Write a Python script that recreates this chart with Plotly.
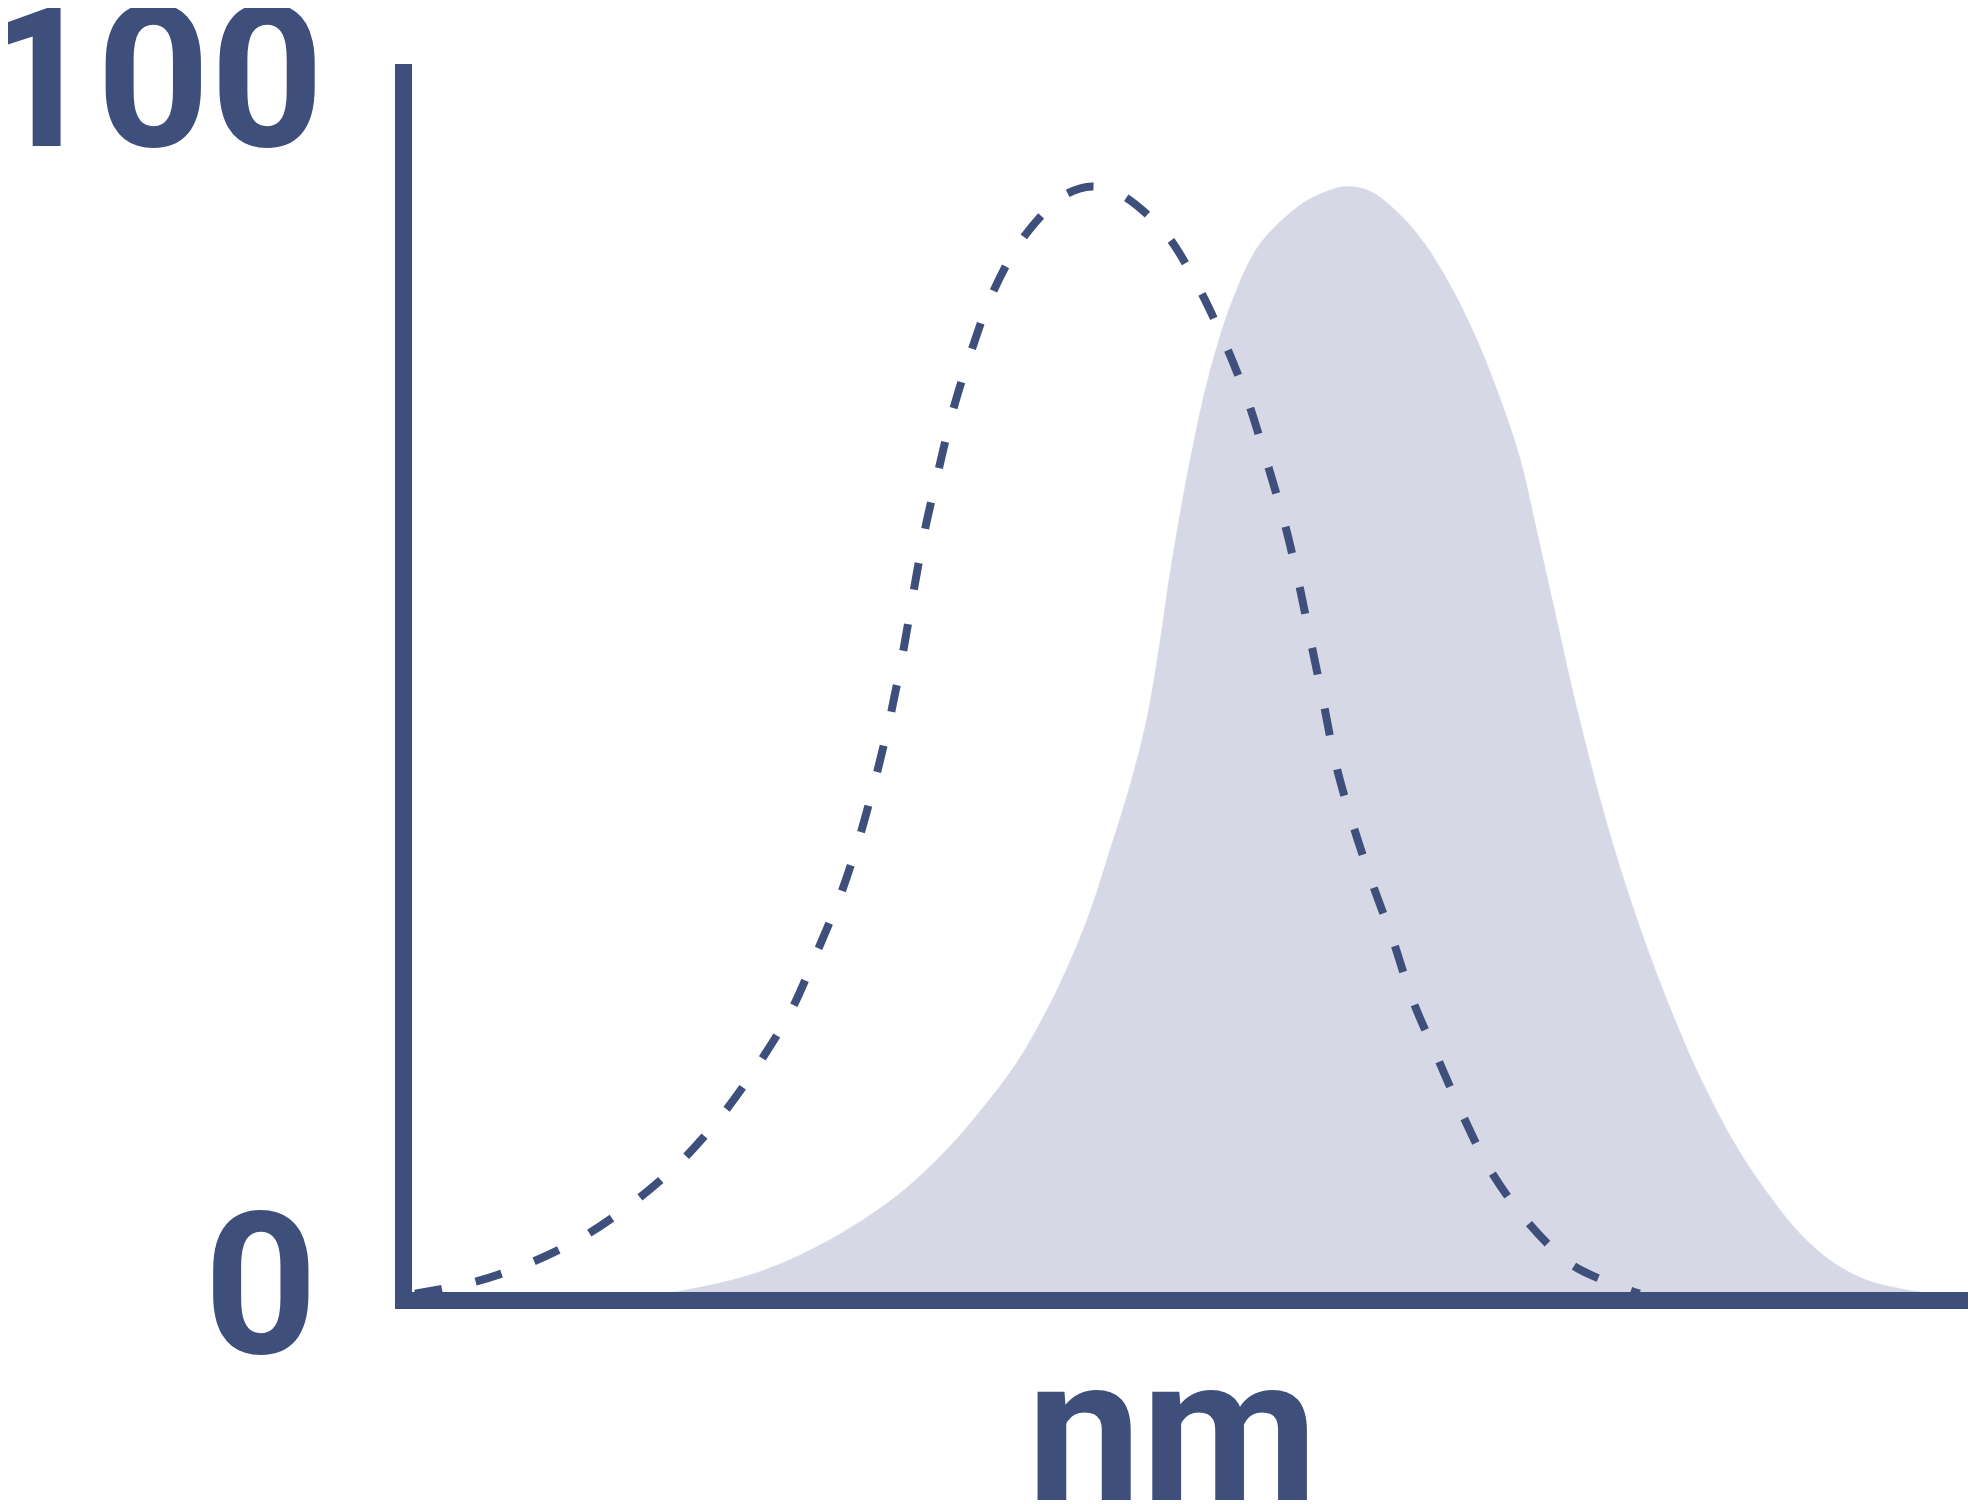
import plotly.graph_objects as go

# ---- data ----
dashed_x = [0.7, 4.4, 8.1, 11.6, 14.9, 17.8, 20.5, 22.9, 24.8, 26.4, 27.9, 29.1, 30.2,
            31.1, 31.9, 32.6, 33.3, 34.2, 35.1, 36.3, 37.6, 39.5, 42.1, 44.0, 45.9,
            48.7, 50.9, 52.6, 54.0, 55.2, 56.3, 57.2, 58.0, 58.8, 59.6, 60.7, 61.9,
            63.2, 64.5, 66.1, 67.7, 69.4, 71.7, 74.7, 78.1, 79.0]
dashed_y = [0.6, 1.5, 3.1, 5.3, 8.2, 11.4, 15.3, 19.6, 23.6, 28.2, 32.8, 37.4, 42.5,
            47.3, 52.4, 57.5, 62.3, 67.3, 72.0, 76.9, 81.4, 85.8, 89.3, 90.1, 89.4,
            86.3, 81.7, 77.1, 72.6, 67.7, 62.9, 58.1, 53.2, 48.3, 43.3, 38.4, 33.8,
            29.3, 24.3, 19.6, 15.0, 10.7, 6.6, 2.9, 1.0, 0.6]

filled_x = [10.0, 12.5, 15.1, 17.8, 22.1, 25.3, 28.5, 31.7, 34.9, 37.0, 39.2, 41.3,
            42.6, 43.9, 45.1, 46.4, 47.5, 48.3, 49.1, 50.3, 51.5, 53.0, 54.7, 57.3,
            58.6, 60.2, 61.8, 63.7, 65.3, 66.9, 68.5, 70.1, 71.4, 72.4, 73.5, 75.2,
            77.3, 79.5, 81.6, 82.9, 85.0, 87.2, 89.3, 91.4, 93.5, 95.7, 98.2, 100.0]
filled_y = [0.0, 0.16, 0.42, 0.84, 2.1, 3.7, 5.9, 8.7, 12.5, 15.6, 19.3, 24.0,
            27.5, 31.6, 36.3, 41.6, 47.1, 53.0, 59.8, 68.2, 75.0, 81.0, 85.4, 88.6,
            89.5, 90.1, 89.7, 87.8, 85.4, 82.1, 78.0, 72.9, 67.9, 62.4, 56.2, 46.8,
            36.9, 28.5, 21.7, 18.0, 12.9, 8.7, 5.4, 3.1, 1.7, 1.0, 0.5, 0.1]

y_tick_labels = ["100", "0"]
x_axis_label = "nm"

NAVY = "#3F4F7C"
FILL = "#D6D9E5"

fig = go.Figure()
fig.add_trace(go.Scatter(
    x=filled_x, y=filled_y, mode="lines", fill="tozeroy",
    fillcolor=FILL, line=dict(color=FILL, width=0.5, shape="spline", smoothing=1.0),
    hoverinfo="skip", showlegend=False))
fig.add_trace(go.Scatter(
    x=dashed_x, y=dashed_y, mode="lines",
    line=dict(color=NAVY, width=8, dash="27px,35px", shape="spline", smoothing=0.9),
    hoverinfo="skip", showlegend=False))

tick_font = dict(family="Roboto", size=198, color=NAVY, weight=700)
label_font = dict(family="Roboto", size=204, color=NAVY, weight=700)
annotations = [
    dict(text=y_tick_labels[0], xref="paper", yref="paper", x=-0.0553, y=0.9888,
         xanchor="right", yanchor="middle", showarrow=False, font=tick_font),
    dict(text=y_tick_labels[1], xref="paper", yref="paper", x=-0.0591, y=0.0059,
         xanchor="right", yanchor="middle", showarrow=False, font=tick_font),
    dict(text=x_axis_label, xref="paper", yref="paper", x=0.4888, y=-0.1125,
         xanchor="center", yanchor="middle", showarrow=False, font=label_font),
]

# the page body adds an 8px offset, so the figure is 8px smaller than the window
fig.update_layout(
    width=1969, height=1496,
    margin=dict(l=404, r=9, t=56, b=212, pad=0),
    paper_bgcolor="white", plot_bgcolor="white",
    annotations=annotations,
    xaxis=dict(range=[0.51, 100], showgrid=False, zeroline=False, showticklabels=False,
               ticks="", showline=True, linecolor=NAVY, linewidth=17, fixedrange=True),
    yaxis=dict(range=[0.73, 100], showgrid=False, zeroline=False, showticklabels=False,
               ticks="", showline=True, linecolor=NAVY, linewidth=17, fixedrange=True),
)

fig.write_html("out.html", config={"displayModeBar": False})
